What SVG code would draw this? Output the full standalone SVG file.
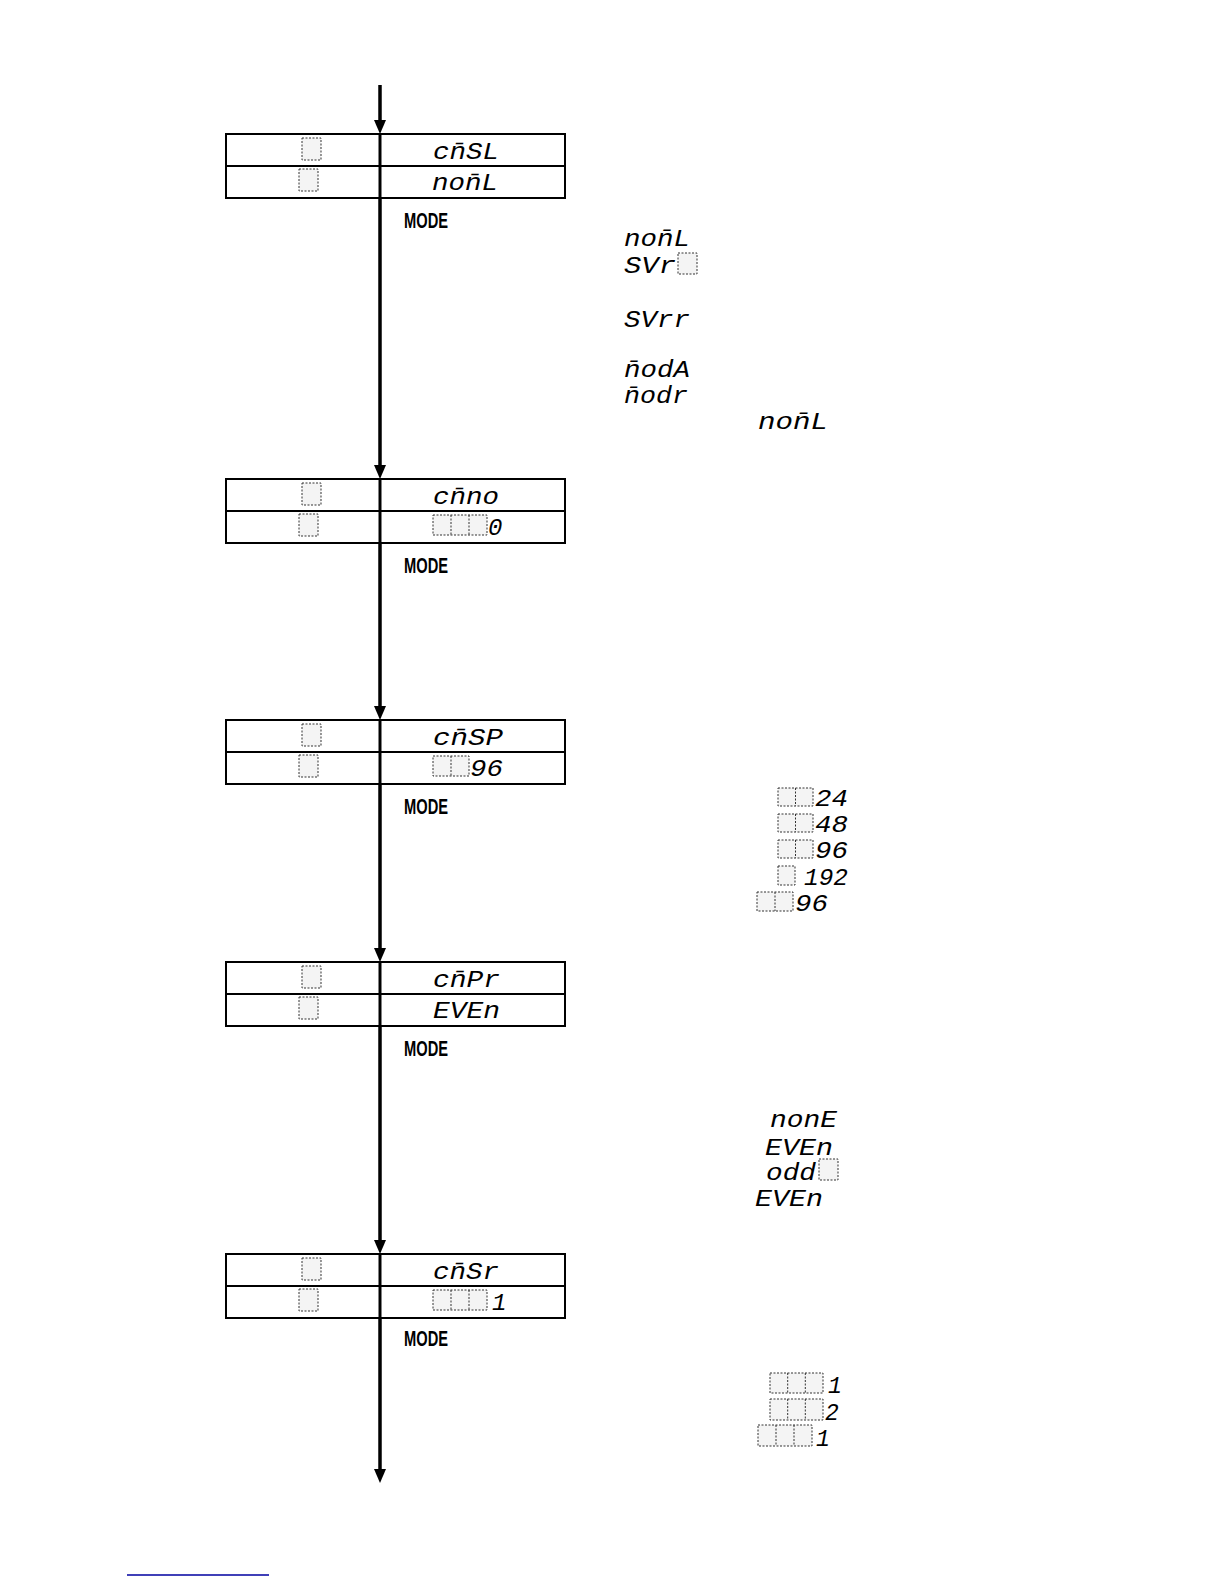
<svg xmlns="http://www.w3.org/2000/svg" width="1224" height="1584" viewBox="0 0 1224 1584">
<style>
.box{fill:#fff;stroke:#000;stroke-width:2}
.div{stroke:#000;stroke-width:3}
.row{stroke:#000;stroke-width:2}
.conn{stroke:#000;stroke-width:3.5;fill:none}
.sq{fill:#f4f4f4;stroke:#333;stroke-width:1;stroke-dasharray:2 1.5}
.sql{stroke:#333;stroke-width:1;stroke-dasharray:2 1.5}
.seg{font-family:"Liberation Mono","DejaVu Sans Mono",monospace;font-style:italic;font-size:24px;fill:#000}
.segb{font-family:"Liberation Mono","DejaVu Sans Mono",monospace;font-style:italic;font-size:23px;fill:#000}
.mode{font-family:"Liberation Sans","Arial",sans-serif;font-size:22px;font-weight:bold;fill:#000}
</style>
<defs>
<marker id="arr" markerUnits="userSpaceOnUse" markerWidth="16" markerHeight="14" refX="6" refY="7" orient="auto">
<path d="M0,1 L14,7 L0,13 z" fill="#000"/>
</marker>
</defs>
<rect width="1224" height="1584" fill="#fff"/>

<g id="connectors">
<line class="conn" x1="380" y1="85" x2="380" y2="126" marker-end="url(#arr)"/>
<line class="conn" x1="380" y1="198" x2="380" y2="471" marker-end="url(#arr)"/>
<line class="conn" x1="380" y1="543" x2="380" y2="712" marker-end="url(#arr)"/>
<line class="conn" x1="380" y1="784" x2="380" y2="954" marker-end="url(#arr)"/>
<line class="conn" x1="380" y1="1026" x2="380" y2="1246" marker-end="url(#arr)"/>
<line class="conn" x1="380" y1="1318" x2="380" y2="1475" marker-end="url(#arr)"/>
</g>

<g id="node-cmsl">
<rect class="box" x="226" y="134" width="339" height="64"/>
<line class="row" x1="226" y1="166" x2="565" y2="166"/>
<line class="div" x1="380" y1="134" x2="380" y2="198"/>
<rect class="sq" x="302" y="138" width="19" height="22"/>
<rect class="sq" x="299" y="169" width="19" height="22"/>
<text class="seg" x="433" y="159" textLength="66" lengthAdjust="spacingAndGlyphs">cn&#x304;SL</text>
<text class="seg" x="432" y="190" textLength="66" lengthAdjust="spacingAndGlyphs">non&#x304;L</text>
<text class="mode" x="404" y="228" textLength="44" lengthAdjust="spacingAndGlyphs">MODE</text>
</g>

<g id="note-cmsl">
<text class="segb" x="624" y="246" textLength="66" lengthAdjust="spacingAndGlyphs">non&#x304;L</text>
<text class="segb" x="624" y="273" textLength="52" lengthAdjust="spacingAndGlyphs">SVr</text>
<rect class="sq" x="678" y="253" width="19" height="21"/>
<text class="segb" x="624" y="327" textLength="66" lengthAdjust="spacingAndGlyphs">SVrr</text>
<text class="segb" x="624" y="377" textLength="66" lengthAdjust="spacingAndGlyphs">n&#x304;odA</text>
<text class="segb" x="624" y="403" textLength="64" lengthAdjust="spacingAndGlyphs">n&#x304;odr</text>
<text class="segb" x="758" y="429" textLength="70" lengthAdjust="spacingAndGlyphs">non&#x304;L</text>
</g>

<g id="node-cmno">
<rect class="box" x="226" y="479" width="339" height="64"/>
<line class="row" x1="226" y1="511" x2="565" y2="511"/>
<line class="div" x1="380" y1="479" x2="380" y2="543"/>
<rect class="sq" x="302" y="483" width="19" height="22"/>
<rect class="sq" x="299" y="514" width="19" height="22"/>
<text class="seg" x="433" y="504" textLength="66" lengthAdjust="spacingAndGlyphs">cn&#x304;no</text>
<rect class="sq" x="433" y="515" width="54" height="20"/>
<line class="sql" x1="451" y1="515" x2="451" y2="535"/>
<line class="sql" x1="469" y1="515" x2="469" y2="535"/>
<text class="seg" x="488" y="535">0</text>
<text class="mode" x="404" y="573" textLength="44" lengthAdjust="spacingAndGlyphs">MODE</text>
</g>

<g id="node-cmsp">
<rect class="box" x="226" y="720" width="339" height="64"/>
<line class="row" x1="226" y1="752" x2="565" y2="752"/>
<line class="div" x1="380" y1="720" x2="380" y2="784"/>
<rect class="sq" x="302" y="724" width="19" height="22"/>
<rect class="sq" x="299" y="755" width="19" height="22"/>
<text class="seg" x="433" y="745" textLength="70" lengthAdjust="spacingAndGlyphs">cn&#x304;SP</text>
<rect class="sq" x="433" y="756" width="36" height="20"/>
<line class="sql" x1="451" y1="756" x2="451" y2="776"/>
<text class="seg" x="470" y="776" textLength="33" lengthAdjust="spacingAndGlyphs">96</text>
<text class="mode" x="404" y="814" textLength="44" lengthAdjust="spacingAndGlyphs">MODE</text>
</g>

<g id="note-cmsp">
<rect class="sq" x="778" y="788" width="35" height="18"/>
<line class="sql" x1="795.5" y1="788" x2="795.5" y2="806"/>
<text class="segb" x="815" y="806" textLength="33" lengthAdjust="spacingAndGlyphs">24</text>
<rect class="sq" x="778" y="814" width="35" height="18"/>
<line class="sql" x1="795.5" y1="814" x2="795.5" y2="832"/>
<text class="segb" x="815" y="832" textLength="33" lengthAdjust="spacingAndGlyphs">48</text>
<rect class="sq" x="778" y="840" width="35" height="18"/>
<line class="sql" x1="795.5" y1="840" x2="795.5" y2="858"/>
<text class="segb" x="815" y="858" textLength="33" lengthAdjust="spacingAndGlyphs">96</text>
<rect class="sq" x="778" y="866" width="17" height="19"/>
<text class="segb" x="804" y="885" textLength="44" lengthAdjust="spacingAndGlyphs">192</text>
<rect class="sq" x="757" y="892" width="36" height="19"/>
<line class="sql" x1="775" y1="892" x2="775" y2="911"/>
<text class="segb" x="795" y="911" textLength="33" lengthAdjust="spacingAndGlyphs">96</text>
</g>

<g id="node-cmpr">
<rect class="box" x="226" y="962" width="339" height="64"/>
<line class="row" x1="226" y1="994" x2="565" y2="994"/>
<line class="div" x1="380" y1="962" x2="380" y2="1026"/>
<rect class="sq" x="302" y="966" width="19" height="22"/>
<rect class="sq" x="299" y="997" width="19" height="22"/>
<text class="seg" x="433" y="987" textLength="67" lengthAdjust="spacingAndGlyphs">cn&#x304;Pr</text>
<text class="seg" x="433" y="1018" textLength="67" lengthAdjust="spacingAndGlyphs">EVEn</text>
<text class="mode" x="404" y="1056" textLength="44" lengthAdjust="spacingAndGlyphs">MODE</text>
</g>

<g id="note-cmpr">
<text class="segb" x="770" y="1127" textLength="67" lengthAdjust="spacingAndGlyphs">nonE</text>
<text class="segb" x="765" y="1155" textLength="68" lengthAdjust="spacingAndGlyphs">EVEn</text>
<text class="segb" x="766" y="1180" textLength="50" lengthAdjust="spacingAndGlyphs">odd</text>
<rect class="sq" x="819" y="1159" width="19" height="21"/>
<text class="segb" x="755" y="1206" textLength="68" lengthAdjust="spacingAndGlyphs">EVEn</text>
</g>

<g id="node-cmsr">
<rect class="box" x="226" y="1254" width="339" height="64"/>
<line class="row" x1="226" y1="1286" x2="565" y2="1286"/>
<line class="div" x1="380" y1="1254" x2="380" y2="1318"/>
<rect class="sq" x="302" y="1258" width="19" height="22"/>
<rect class="sq" x="299" y="1289" width="19" height="22"/>
<text class="seg" x="433" y="1279" textLength="66" lengthAdjust="spacingAndGlyphs">cn&#x304;Sr</text>
<rect class="sq" x="433" y="1290" width="54" height="20"/>
<line class="sql" x1="451" y1="1290" x2="451" y2="1310"/>
<line class="sql" x1="469" y1="1290" x2="469" y2="1310"/>
<text class="seg" x="492" y="1310">1</text>
<text class="mode" x="404" y="1346" textLength="44" lengthAdjust="spacingAndGlyphs">MODE</text>
</g>

<g id="note-cmsr">
<rect class="sq" x="770" y="1373" width="53" height="20"/>
<line class="sql" x1="787.7" y1="1373" x2="787.7" y2="1393"/>
<line class="sql" x1="805.3" y1="1373" x2="805.3" y2="1393"/>
<text class="segb" x="828" y="1393">1</text>
<rect class="sq" x="770" y="1399" width="53" height="21"/>
<line class="sql" x1="787.7" y1="1399" x2="787.7" y2="1420"/>
<line class="sql" x1="805.3" y1="1399" x2="805.3" y2="1420"/>
<text class="segb" x="825" y="1420">2</text>
<rect class="sq" x="758" y="1425" width="54" height="21"/>
<line class="sql" x1="776" y1="1425" x2="776" y2="1446"/>
<line class="sql" x1="794" y1="1425" x2="794" y2="1446"/>
<text class="segb" x="816" y="1446">1</text>
</g>

<line x1="127" y1="1575" x2="269" y2="1575" stroke="#0000a0" stroke-width="1.5"/>
</svg>
